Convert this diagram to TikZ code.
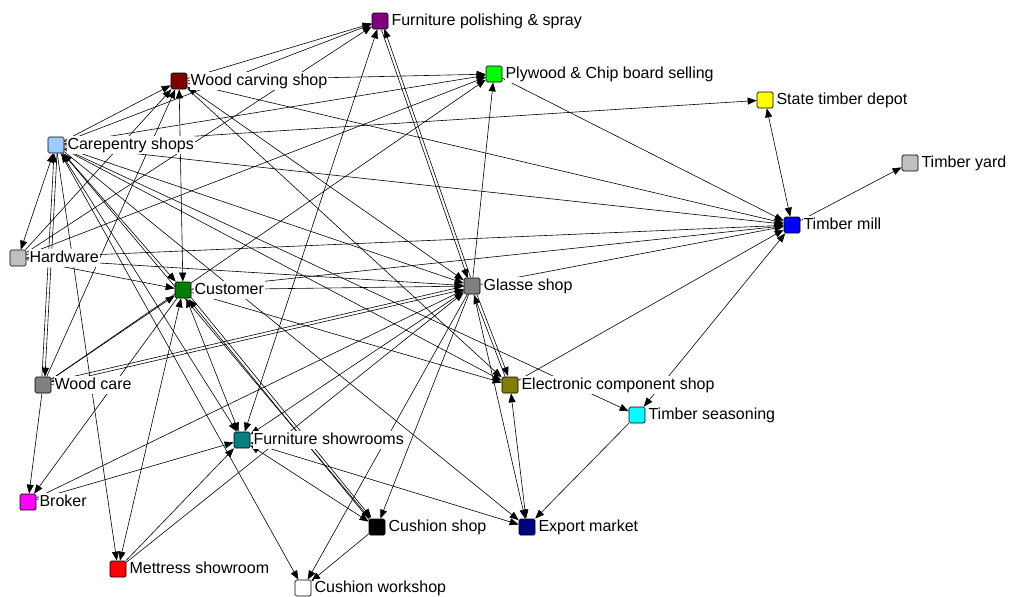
\documentclass[tikz,border=0pt]{standalone}
\usepackage{fontspec}
\setmainfont{Liberation Sans}
\usetikzlibrary{arrows.meta}
\pgfdeclarelayer{edges}
\pgfsetlayers{edges,main}

\definecolor{cPurple}{RGB}{128,0,128}
\definecolor{cMaroon}{RGB}{128,0,0}
\definecolor{cLime}{RGB}{0,255,0}
\definecolor{cYellow}{RGB}{255,255,0}
\definecolor{cSilver}{RGB}{192,192,192}
\definecolor{cSky}{RGB}{153,204,255}
\definecolor{cBlue}{RGB}{0,0,255}
\definecolor{cGreen}{RGB}{0,128,0}
\definecolor{cGray}{RGB}{128,128,128}
\definecolor{cOlive}{RGB}{128,128,0}
\definecolor{cCyan}{RGB}{0,255,255}
\definecolor{cTeal}{RGB}{0,128,128}
\definecolor{cMagenta}{RGB}{255,0,255}
\definecolor{cNavy}{RGB}{0,0,128}
\definecolor{cRed}{RGB}{255,0,0}

\begin{document}
\begin{tikzpicture}[x=1pt,y=-1pt,
  actor/.style={draw=black, line width=0.7pt, minimum size=16pt, inner sep=0pt, rounded corners=1.5pt},
  lab/.style={anchor=west, fill=white, inner sep=1pt, text height=12pt, text depth=4pt,
              font=\fontsize{16}{18}\selectfont},
  tie/.style={line width=0.6pt, -{Triangle[length=9pt,width=7pt]}},
  mutual/.style={line width=0.6pt, {Triangle[length=9pt,width=7pt]}-{Triangle[length=9pt,width=7pt]}},
  offA/.style={transform canvas={shift={#1}}},
]
\useasboundingbox (0,0) rectangle (1015,597);

% actors
\node[actor, fill=cPurple]  (FP)  at (380,21)  {};
\node[actor, fill=cMaroon]  (WC)  at (179,81)  {};
\node[actor, fill=cLime]    (PW)  at (494,74)  {};
\node[actor, fill=cYellow]  (ST)  at (765,100) {};
\node[actor, fill=cSilver]  (TY)  at (910,163) {};
\node[actor, fill=cSky]     (CS)  at (56,145)  {};
\node[actor, fill=cBlue]    (TM)  at (792,225) {};
\node[actor, fill=cSilver]  (HW)  at (18,258)  {};
\node[actor, fill=cGreen]   (CU)  at (183,290) {};
\node[actor, fill=cGray]    (GS)  at (472,286) {};
\node[actor, fill=cGray]    (WCa) at (43,385)  {};
\node[actor, fill=cOlive]   (EC)  at (510,385) {};
\node[actor, fill=cCyan]    (TS)  at (637,415) {};
\node[actor, fill=cTeal]    (FS)  at (242,440) {};
\node[actor, fill=cMagenta] (BR)  at (28,502)  {};
\node[actor, fill=black]    (CSh) at (377,527) {};
\node[actor, fill=cNavy]    (EM)  at (527,527) {};
\node[actor, fill=cRed]     (MS)  at (118,569) {};
\node[actor, fill=white]    (CW)  at (303,588) {};

% labels
\node[lab] (FPt)  at ([xshift=2pt]FP.east)  {Furniture polishing \& spray};
\node[lab] (WCt)  at ([xshift=2pt]WC.east)  {Wood carving shop};
\node[lab] (PWt)  at ([xshift=2pt]PW.east)  {Plywood \& Chip board selling};
\node[lab] (STt)  at ([xshift=2pt]ST.east)  {State timber depot};
\node[lab] (TYt)  at ([xshift=2pt]TY.east)  {Timber yard};
\node[lab] (CSt)  at ([xshift=2pt]CS.east)  {Carepentry shops};
\node[lab] (TMt)  at ([xshift=2pt]TM.east)  {Timber mill};
\node[lab] (HWt)  at ([xshift=2pt]HW.east)  {Hardware};
\node[lab] (CUt)  at ([xshift=2pt]CU.east)  {Customer};
\node[lab] (GSt)  at ([xshift=2pt]GS.east)  {Glasse shop};
\node[lab] (WCat) at ([xshift=2pt]WCa.east) {Wood care};
\node[lab] (ECt)  at ([xshift=2pt]EC.east)  {Electronic component shop};
\node[lab] (TSt)  at ([xshift=2pt]TS.east)  {Timber seasoning};
\node[lab] (FSt)  at ([xshift=2pt]FS.east)  {Furniture showrooms};
\node[lab] (BRt)  at ([xshift=2pt]BR.east)  {Broker};
\node[lab] (CSht) at ([xshift=2pt]CSh.east) {Cushion shop};
\node[lab] (EMt)  at ([xshift=2pt]EM.east)  {Export market};
\node[lab] (MSt)  at ([xshift=2pt]MS.east)  {Mettress showroom};
\node[lab] (CWt)  at ([xshift=2pt]CW.east)  {Cushion workshop};

\begin{pgfonlayer}{edges}
% Carepentry shops
\draw[tie] (CS) -- (FP);
\draw[tie] (CS) -- (WC);
\draw[tie] (CS) -- (PW);
\draw[tie] (CS) -- (ST);
\draw[tie] (CS) -- (TM);
\draw[tie] (CS) -- (GS);
\draw[tie] (CS) -- (EC);
\draw[tie] (CS) -- (TS);
\draw[tie] (CS) -- (EM);
\draw[mutual] (CS) -- (CU);
\draw[mutual] (CS) -- (FS);
\draw[tie] (CS) -- (CSh);
\draw[tie] (CS) -- (CW);
\draw[tie] (CS) -- (MS);
\draw[mutual] (CS) -- (HW);
\draw[tie, offA={(1.5,0)}]  (CS) -- (WCa);
\draw[tie, offA={(-1.5,0)}] (WCa) -- (CS);
% Hardware
\draw[tie] (HW) -- (CU);
\draw[tie] (HW) -- (TM);
\draw[tie] (HW) -- (GS);
\draw[tie] (HW) -- (FP);
\draw[tie] (HW) -- (WC);
\draw[tie] (HW) -- (PW);
% Wood care
\draw[tie] (WCa) -- (BR);
\draw[tie, offA={(0.35,1.45)}]   (WCa) -- (GS);
\draw[tie, offA={(-0.35,-1.45)}] (GS) -- (WCa);
\draw[tie] (WCa) -- (CU);
\draw[tie] (WCa) -- (WC);
\draw[tie] (WCa) -- (PW);
% Wood carving shop
\draw[mutual] (WC) -- (CU);
\draw[tie] (WC) -- (PW);
\draw[tie] (WC) -- (FP);
\draw[tie] (WC) -- (TM);
\draw[mutual] (WC) -- (GS);
\draw[tie] (WC) -- (EC);
% Customer
\draw[tie] (CU) -- (GS);
\draw[tie] (CU) -- (TM);
\draw[tie] (CU) -- (EC);
\draw[mutual] (CU) -- (FS);
\draw[tie, offA={(1.15,-0.95)}]  (CU) -- (CSh);
\draw[tie, offA={(-1.15,0.95)}] (CSh) -- (CU);
\draw[mutual] (CU) -- (MS);
\draw[tie] (CU) -- (BR);
% Broker and Mettress showroom
\draw[tie] (BR) -- (FS);
\draw[tie] (BR) -- (GS);
\draw[tie] (MS) -- (FS);
\draw[tie] (MS) -- (GS);
% Glasse shop
\draw[tie, offA={(1.4,-0.5)}]  (GS) -- (FP);
\draw[tie, offA={(-1.4,0.5)}] (FP) -- (GS);
\draw[tie] (GS) -- (PW);
\draw[tie] (GS) -- (TM);
\draw[tie, offA={(1.4,-0.55)}]  (GS) -- (EC);
\draw[tie, offA={(-1.4,0.55)}] (EC) -- (GS);
\draw[tie] (GS) -- (EM);
\draw[tie] (GS) -- (CSh);
\draw[tie] (GS) -- (CW);
\draw[tie] (GS) -- (FS);
% remaining ties
\draw[tie] (PW) -- (TM);
\draw[mutual] (FS) -- (FP);
\draw[mutual] (FS) -- (EM);
\draw[mutual] (FS) -- (CSh);
\draw[mutual] (EC) -- (EM);
\draw[tie] (EC) -- (TM);
\draw[mutual] (TS) -- (TM);
\draw[tie] (TS) -- (EM);
\draw[mutual] (ST) -- (TM);
\draw[tie] (TM) -- (TY);
\draw[tie] (CSh) -- (CW);
\end{pgfonlayer}
\end{tikzpicture}
\end{document}
